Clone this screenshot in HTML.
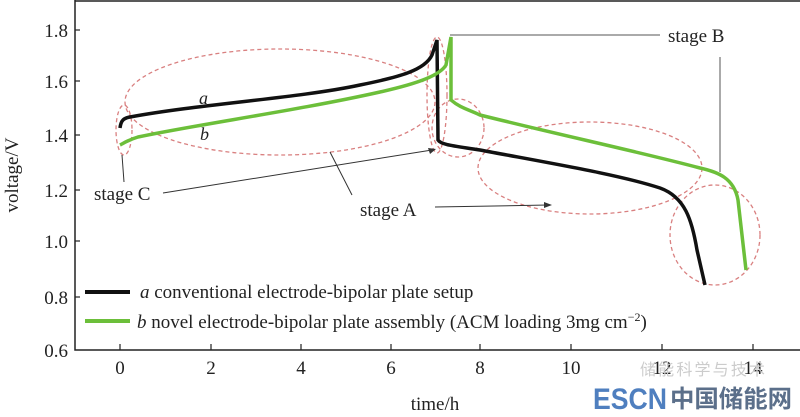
<!DOCTYPE html>
<html><head><meta charset="utf-8"><style>
body{margin:0;background:#fff;width:800px;height:412px;overflow:hidden}
text{font-family:"Liberation Serif",serif;fill:#222}
</style></head><body>
<svg width="800" height="412" viewBox="0 0 800 412" xmlns="http://www.w3.org/2000/svg">
<rect width="800" height="412" fill="#fff"/>
<path d="M75,0 L75,350 L800,350 M75,1 L800,1" stroke="#222" stroke-width="1.5" fill="none"/>
<g stroke="#222" stroke-width="1.2">
<line x1="75" y1="30" x2="80" y2="30"/><line x1="75" y1="81" x2="80" y2="81"/><line x1="75" y1="135" x2="80" y2="135"/><line x1="75" y1="190" x2="80" y2="190"/><line x1="75" y1="241" x2="80" y2="241"/><line x1="75" y1="297" x2="80" y2="297"/>
<line x1="120" y1="350" x2="120" y2="344"/><line x1="211" y1="350" x2="211" y2="344"/><line x1="301" y1="350" x2="301" y2="344"/><line x1="391" y1="350" x2="391" y2="344"/><line x1="480" y1="350" x2="480" y2="344"/><line x1="571" y1="350" x2="571" y2="344"/><line x1="662" y1="350" x2="662" y2="344"/><line x1="753" y1="350" x2="753" y2="344"/>
</g>
<g font-size="19" text-anchor="end">
<text x="68" y="37">1.8</text><text x="68" y="88">1.6</text><text x="68" y="142">1.4</text><text x="68" y="197">1.2</text><text x="68" y="248">1.0</text><text x="68" y="304">0.8</text><text x="68" y="357">0.6</text>
</g>
<g font-size="19" text-anchor="middle">
<text x="120" y="374">0</text><text x="211" y="374">2</text><text x="301" y="374">4</text><text x="391" y="374">6</text><text x="480" y="374">8</text><text x="571" y="374">10</text><text x="662" y="374">12</text><text x="753" y="374">14</text>
<text x="435" y="410">time/h</text>
</g>
<text font-size="19" text-anchor="middle" transform="translate(18,175) rotate(-90)">voltage/V</text>
<g stroke="#d98080" stroke-width="1.3" stroke-dasharray="4,3" fill="none">
<ellipse cx="280" cy="102" rx="155" ry="53"/>
<ellipse cx="124" cy="130" rx="8" ry="25"/>
<ellipse cx="437" cy="95" rx="10" ry="58"/>
<ellipse cx="458" cy="128" rx="26" ry="29"/>
<ellipse cx="590" cy="168" rx="112" ry="46"/>
<ellipse cx="715" cy="235" rx="45" ry="50"/>
</g>
<path d="M450,35 L660,35 M720,57 L720,172" stroke="#aaa" stroke-width="2" fill="none"/>
<path d="M163,193 L432,150 M330,152 L352,195 M122,155 L124,182 M435,207 L548,205" stroke="#333" stroke-width="1" fill="none"/>
<path d="M436,149 L428,148 L430,154Z M552,205 L544,202 L544,208Z" fill="#333"/>
<path d="M120,128 C121,120 124,118 130,117 C200,104 300,98 360,85 C400,77 425,70 432,55 L437,40 L438,140 C441,145 455,146 480,150 C560,165 620,175 660,188 C685,197 692,220 697,250 L705,285" stroke="#111" stroke-width="3.5" fill="none"/>
<path d="M120,145 C124,143 128,140 138,137 C200,124 300,110 380,92 C420,83 440,75 446,65 L451,37 L451,100 C460,108 470,110 480,115 C560,135 640,152 700,168 C718,172 734,178 738,200 L746,270" stroke="#6cbf3a" stroke-width="3.5" fill="none"/>
<text x="199" y="104" font-size="18" font-style="italic">a</text>
<text x="200" y="140" font-size="18" font-style="italic">b</text>
<text x="94" y="200" font-size="19">stage C</text>
<text x="360" y="216" font-size="19">stage A</text>
<text x="668" y="42" font-size="19">stage B</text>
<line x1="85" y1="292" x2="130" y2="292" stroke="#111" stroke-width="4"/>
<line x1="85" y1="321" x2="130" y2="321" stroke="#6cbf3a" stroke-width="4"/>
<text x="140" y="298" font-size="19"><tspan font-style="italic">a</tspan> conventional electrode-bipolar plate setup</text>
<text x="137" y="328" font-size="19"><tspan font-style="italic">b</tspan> novel electrode-bipolar plate assembly (ACM loading 3mg cm<tspan font-size="12" dy="-7">−2</tspan><tspan dy="7">)</tspan></text>
<text x="640" y="375" font-size="16" textLength="125" style="font-family:'Liberation Sans','Noto Sans CJK SC',sans-serif;fill:#ccc">储能科学与技术</text>
<text x="593" y="409" font-size="30" font-weight="bold" textLength="74" lengthAdjust="spacingAndGlyphs" style="font-family:'Liberation Sans',sans-serif;fill:#4f7fbf">ESCN</text>
<text x="670" y="407" font-size="24" font-weight="bold" textLength="122" lengthAdjust="spacingAndGlyphs" style="font-family:'Noto Sans CJK SC',sans-serif;fill:#5b6f8a">中国储能网</text>
</svg>
</body></html>
